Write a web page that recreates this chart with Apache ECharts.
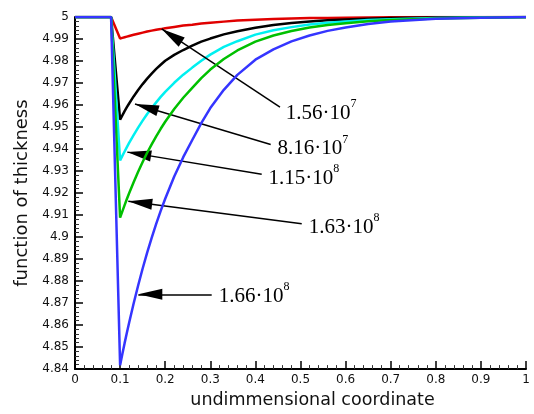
<!DOCTYPE html>
<html>
<head>
<meta charset="utf-8">
<script src="https://cdn.jsdelivr.net/npm/echarts@6/dist/echarts.min.js"></script>
<style>html,body{margin:0;padding:0;background:#fff;}#chart{width:534px;height:414px;}</style>
</head>
<body>
<div id="chart"></div>
<script>
const xValues = [0, 0.08, 0.1, 0.105, 0.11, 0.115, 0.12, 0.13, 0.14, 0.15, 0.16, 0.17, 0.18, 0.19, 0.2, 0.22, 0.24, 0.26, 0.28, 0.3, 0.33, 0.36, 0.4, 0.44, 0.48, 0.52, 0.56, 0.6, 0.65, 0.7, 0.8, 0.9, 1];
const redValues = [5, 5, 4.9902, 4.9905, 4.9908, 4.9911, 4.9914, 4.9919, 4.9924, 4.9929, 4.9934, 4.9938, 4.9942, 4.9945, 4.9949, 4.9955, 4.9961, 4.9965, 4.9970, 4.9974, 4.9979, 4.9984, 4.9988, 4.9991, 4.9993, 4.9995, 4.9996, 4.9997, 4.9998, 4.9999, 5, 5, 5];
const blackValues = [5, 5, 4.9534, 4.9553, 4.9572, 4.9590, 4.9607, 4.9639, 4.9668, 4.9695, 4.9720, 4.9743, 4.9764, 4.9783, 4.9801, 4.9828, 4.9850, 4.9870, 4.9888, 4.9902, 4.9921, 4.9935, 4.9951, 4.9964, 4.9973, 4.9980, 4.9985, 4.9989, 4.9992, 4.9995, 4.9998, 4.9999, 5];
const cyanValues = [5, 5, 4.9348, 4.9369, 4.9389, 4.9409, 4.9428, 4.9463, 4.9497, 4.9529, 4.9559, 4.9586, 4.9612, 4.9637, 4.9660, 4.9701, 4.9738, 4.9770, 4.9801, 4.9829, 4.9864, 4.9890, 4.9920, 4.9940, 4.9954, 4.9966, 4.9974, 4.9980, 4.9986, 4.9990, 4.9995, 4.9998, 5];
const greenValues = [5, 5, 4.9088, 4.9117, 4.9145, 4.9173, 4.9199, 4.9249, 4.9297, 4.9341, 4.9383, 4.9421, 4.9458, 4.9492, 4.9524, 4.9582, 4.9633, 4.9678, 4.9722, 4.9761, 4.9809, 4.9848, 4.9888, 4.9916, 4.9936, 4.9952, 4.9964, 4.9972, 4.9981, 4.9986, 4.9993, 4.9997, 5];
const blueValues = [5, 5, 4.8418, 4.8469, 4.8518, 4.8565, 4.8611, 4.8698, 4.8780, 4.8857, 4.8929, 4.8996, 4.9060, 4.9119, 4.9174, 4.9275, 4.9363, 4.9441, 4.9518, 4.9586, 4.9669, 4.9737, 4.9806, 4.9853, 4.9889, 4.9916, 4.9937, 4.9952, 4.9968, 4.9980, 4.9992, 4.9997, 5];

const seriesNames = ['1.56e7', '8.16e7', '1.15e8', '1.63e8', '1.66e8'];
const seriesColors = ['#e00000', '#000000', '#00f0f0', '#00c000', '#3535ff'];

const annotationMantissa = ['1.56·10', '8.16·10', '1.15·10', '1.63·10', '1.66·10'];
const annotationExponent = ['7', '7', '8', '8', '8'];
const annotationTail = [[0.4545, 4.9590], [0.4339, 4.9421], [0.4140, 4.9285], [0.5027, 4.9060], [0.3031, 4.8740]];
const annotationTip = [[0.1922, 4.9946], [0.1330, 4.9605], [0.1160, 4.9386], [0.1182, 4.9163], [0.1404, 4.8740]];

const xTickLabels = ['0', '0.1', '0.2', '0.3', '0.4', '0.5', '0.6', '0.7', '0.8', '0.9', '1'];
const yTickLabels = ['4.84', '4.85', '4.86', '4.87', '4.88', '4.89', '4.9', '4.91', '4.92', '4.93', '4.94', '4.95', '4.96', '4.97', '4.98', '4.99', '5'];

const allValues = [redValues, blackValues, cyanValues, greenValues, blueValues];

const chart = echarts.init(document.getElementById('chart'), null, {renderer: 'canvas', width: 534, height: 414});

const series = allValues.map((vals, i) => ({
  name: seriesNames[i],
  type: 'line',
  data: xValues.map((x, j) => [x, vals[j]]),
  showSymbol: false,
  symbol: 'none',
  lineStyle: {color: seriesColors[i], width: 2.5},
  itemStyle: {color: seriesColors[i]},
  z: 2 + i,
  markLine: {
    silent: true,
    symbol: ['none', 'triangle'],
    symbolSize: [11, 24],
    symbolOffset: [[0, 0], [0, '50%']],
    lineStyle: {color: '#000', width: 1.5, type: 'solid'},
    itemStyle: {color: '#000'},
    emphasis: {disabled: true},
    label: {
      show: true,
      position: 'start',
      distance: 7,
      formatter: '{a|' + annotationMantissa[i] + '}{b|' + annotationExponent[i] + '}',
      rich: {
        a: {fontFamily: 'Liberation Serif', fontSize: 21, color: '#000', padding: [5, 0, 0, 0]},
        b: {fontFamily: 'Liberation Serif', fontSize: 12, color: '#000', verticalAlign: 'top'}
      }
    },
    data: [[{coord: annotationTail[i]}, {coord: annotationTip[i]}]]
  }
}));

const axisFont = 'DejaVu Sans';

chart.setOption({
  animation: false,
  grid: {left: 75, right: 8, top: 17, bottom: 38, containLabel: false},
  xAxis: {
    type: 'value', min: 0, max: 1, interval: 0.1,
    name: 'undimmensional coordinate',
    nameLocation: 'middle', nameGap: 19,
    nameTextStyle: {fontFamily: axisFont, fontSize: 17.5, color: '#111', padding: [0, 0, 0, 24]},
    axisLine: {show: true, onZero: false, lineStyle: {color: '#000', width: 2}},
    axisTick: {show: true, inside: true, length: 8, lineStyle: {color: '#000', width: 1.5}},
    minorTick: {show: true, splitNumber: 5, length: 4, lineStyle: {color: '#333', width: 1}},
    axisLabel: {fontFamily: axisFont, fontSize: 12, color: '#111', margin: 5,
      formatter: v => xTickLabels[Math.round(v * 10)]},
    splitLine: {show: false}
  },
  yAxis: {
    type: 'value', min: 4.84, max: 5, interval: 0.01,
    name: 'function of thickness',
    nameLocation: 'middle', nameGap: 43,
    nameTextStyle: {fontFamily: axisFont, fontSize: 18, color: '#111'},
    axisLine: {show: true, onZero: false, lineStyle: {color: '#000', width: 2}},
    axisTick: {show: true, inside: true, length: 8, lineStyle: {color: '#000', width: 1.5}},
    minorTick: {show: true, splitNumber: 5, length: 4, lineStyle: {color: '#333', width: 1}},
    axisLabel: {fontFamily: axisFont, fontSize: 12, color: '#111', margin: 6,
      formatter: v => yTickLabels[Math.round((v - 4.84) * 100)]},
    splitLine: {show: false}
  },
  series: series
});
</script>
</body>
</html>
